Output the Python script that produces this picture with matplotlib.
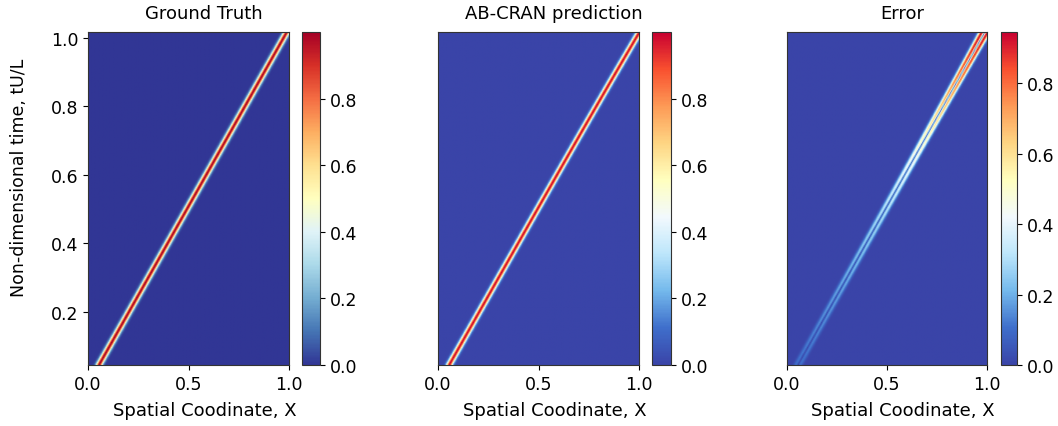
import numpy as np
import matplotlib
matplotlib.use('Agg')
import matplotlib.pyplot as plt
from matplotlib.colors import LinearSegmentedColormap

plt.rcParams['font.family'] = 'DejaVu Sans'
plt.rcParams['font.size'] = 12.5

# pulse advected at constant speed: x_c = x0 + c*t
titles = ['Ground Truth', 'AB-CRAN prediction', 'Error']
x_range = [0.0, 1.0]
t_range = [0.045, 1.0175]
nx, nt = 256, 200
x0 = 0.012
speed = 0.96
sigma = 0.011
# prediction drift (in units of sigma): a + b*t + c*t^4
drift_coef = [0.15, 0.55, 1.6]
x_ticks = [0.0, 0.5, 1.0]
y_ticks = [0.2, 0.4, 0.6, 0.8, 1.0]
cb_ticks = [0.0, 0.2, 0.4, 0.6, 0.8]

x = np.linspace(x_range[0], x_range[1], nx)
t = np.linspace(t_range[0], t_range[1], nt)
X, T = np.meshgrid(x, t)
xc = x0 + speed * T
gt = np.exp(-(X - xc) ** 2 / (2 * sigma ** 2))
d = sigma * (drift_coef[0] + drift_coef[1] * T + drift_coef[2] * T ** 4)
pred = np.exp(-(X - xc - d / 2) ** 2 / (2 * sigma ** 2))
gt_shift = np.exp(-(X - xc + d / 2) ** 2 / (2 * sigma ** 2))
err = np.abs(gt_shift - pred)
fields = [gt, pred, err]

# slightly brighter variant of RdYlBu_r seen in the 2nd/3rd panels
bright = LinearSegmentedColormap.from_list('bright', [
    '#3a44a8', '#3f6fcb', '#74b9ec', '#bde6fb', '#f2f9fd', '#ffffbf',
    '#fed583', '#fd9a56', '#f9502f', '#c80030'])
cmaps = ['RdYlBu_r', bright, bright]

W, H = 1058, 427
fig = plt.figure(figsize=(W / 100, H / 100), dpi=100)
ax_px = [(88, 289), (438, 639), (787, 987)]
cb_px = [(302, 320), (652, 671), (1001, 1017)]
top, bot = 33, 366

for i in range(3):
    l, r = ax_px[i]
    ax = fig.add_axes([l / W, (H - bot) / H, (r - l) / W, (bot - top) / H])
    im = ax.imshow(fields[i], origin='lower', aspect='auto', cmap=cmaps[i],
                   extent=[x_range[0], x_range[1], t_range[0], t_range[1]],
                   interpolation='bilinear')
    ax.set_title(titles[i], fontsize=13, pad=10)
    ax.title.set_x(0.575)
    ax.set_xticks(x_ticks)
    ax.set_xlabel('Spatial Coodinate, X', fontsize=13, labelpad=6)
    ax.xaxis.label.set_x(0.58)
    if i == 0:
        ax.set_yticks(y_ticks)
        ax.set_ylabel('Non-dimensional time, tU/L', fontsize=12.5, labelpad=16)
        ax.yaxis.label.set_y(0.565)
    else:
        ax.set_yticks([])
    for s in ax.spines.values():
        s.set_color('#333333')
    cl, cr = cb_px[i]
    cax = fig.add_axes([cl / W, (H - bot) / H, (cr - cl) / W, (bot - top) / H])
    cb = fig.colorbar(im, cax=cax)
    cb.set_ticks(cb_ticks)
    cb.outline.set_edgecolor('#333333')

fig.savefig('out.png', dpi=100)
